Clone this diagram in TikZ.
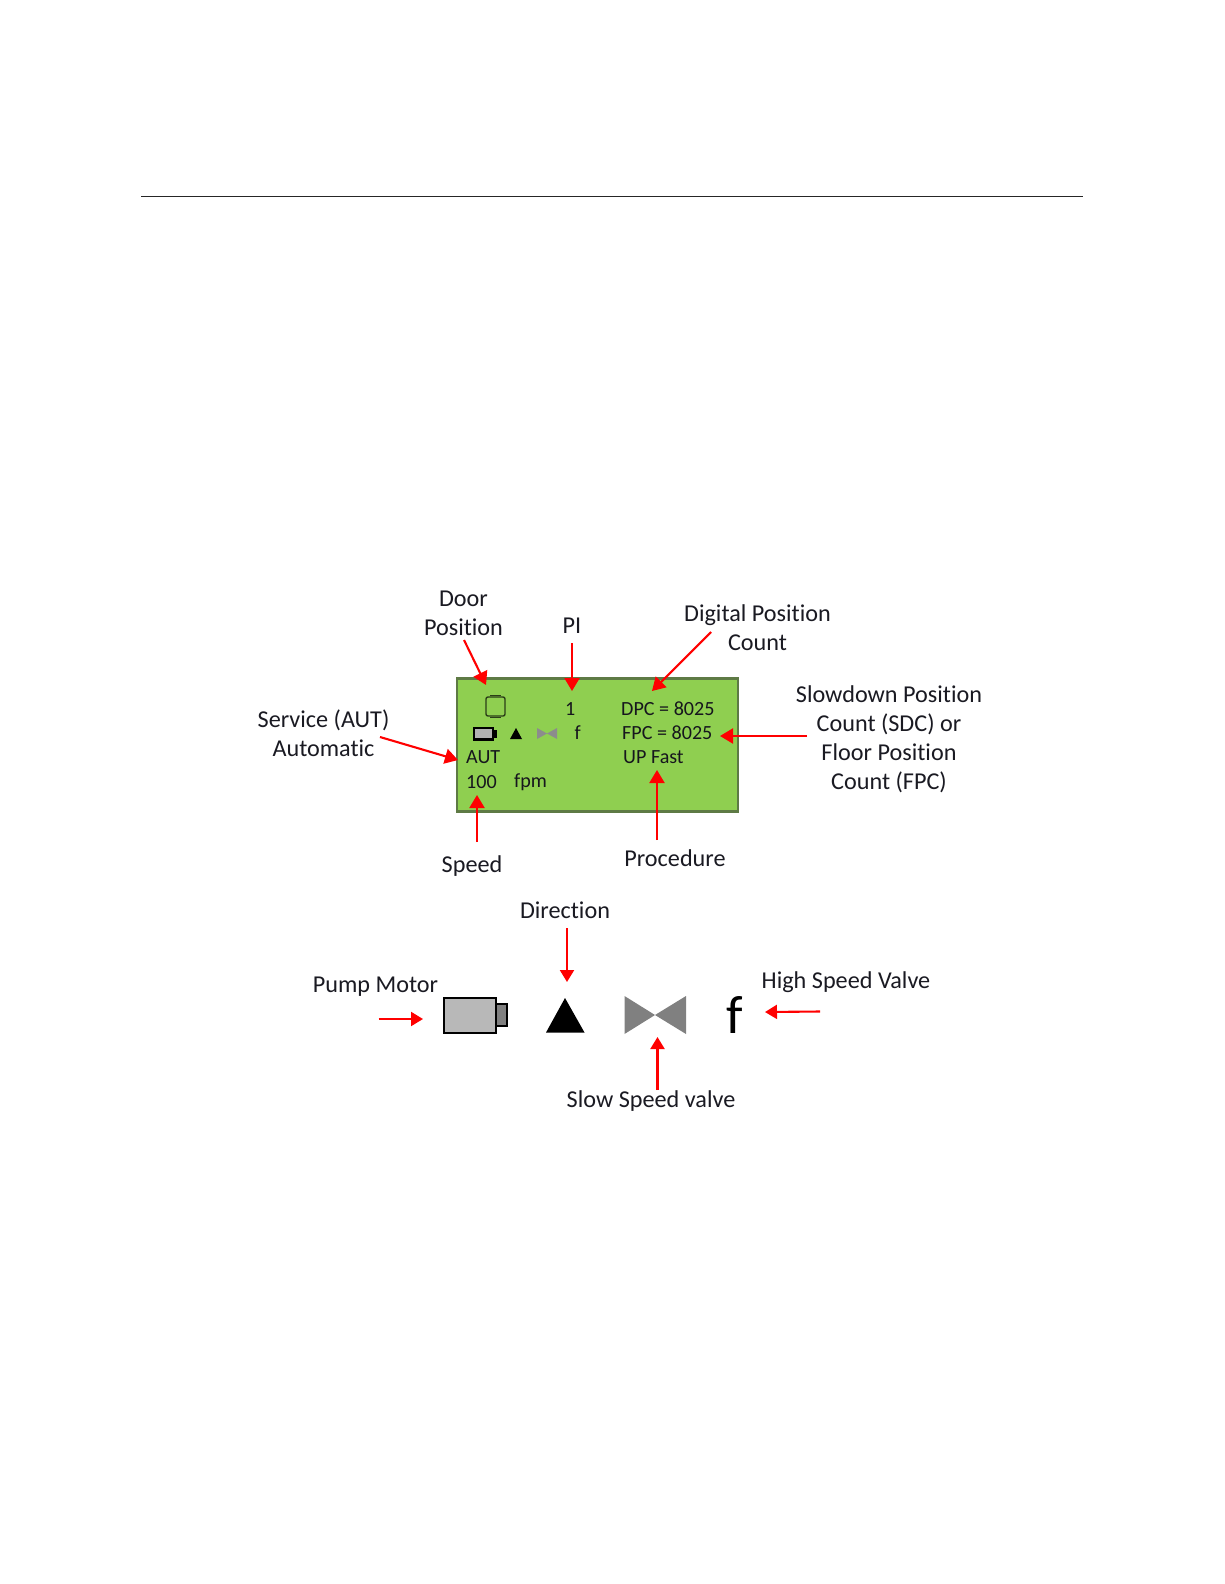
\documentclass[tikz,border=0pt]{standalone}
\usepackage{fontspec}
\setmainfont[Ligatures=NoCommon]{Carlito}
\usetikzlibrary{arrows.meta}
\definecolor{lcd}{HTML}{8FCF50}
\definecolor{lcdedge}{HTML}{5E7A45}
\definecolor{ink}{HTML}{1A1A22}
\tikzset{
  lab/.style={font=\fontsize{24.2}{29}\selectfont,text=ink,inner sep=0pt,align=center,anchor=center},
  disp/.style={font=\fontsize{20.1}{24}\selectfont,text=ink!85!black,inner sep=0pt,anchor=west},
  redarrow/.style={draw=red,line width=2.1pt,-{Triangle[length=13pt,width=15pt]},shorten >=0pt},
  redarrowsm/.style={draw=red,line width=2.1pt,-{Triangle[length=12pt,width=14pt]}},
}
\begin{document}
\begin{tikzpicture}[x=1pt,y=-1pt]
\useasboundingbox (0,0) rectangle (1224,1584);
\fill[white] (0,0) rectangle (1224,1584);
% header rule
\coordinate (ruleL) at (141,196);
\coordinate (ruleR) at (1083,196);
\draw[line width=0.9pt,black!85] (ruleL) -- (ruleR);

% LCD
\node[draw=lcdedge,fill=lcd,line width=2.2pt,minimum width=281pt,minimum height=133pt,inner sep=0pt,outer sep=0pt,anchor=north west] (lcd) at (457,678.5) {};

% labels
\node[lab] (door) at (463.5,613.5) {Door\\Position};
\node[lab] (pi) at (572,625.5) {PI};
\node[lab] (dpc) at (757.5,627.5) {Digital Position\\Count};
\node[lab] (sdc) at (889,739.5) {Slowdown Position\\Count (SDC) or\\Floor Position\\Count (FPC)};
\node[lab] (svc) at (323.5,733) {Service (AUT)\\Automatic};
\node[lab] (speed) at (472,866) {Speed};
\node[lab] (proc) at (675,858.5) {Procedure};
\node[lab] (dir) at (565,910) {Direction};
\node[lab] (pump) at (375.5,987) {Pump Motor};
\node[lab] (high) at (846,982) {High Speed Valve};
\node[lab] (slow) at (651,1101.5) {Slow Speed valve};

% LCD text
\node[disp] (t1) at (565,709) {1};
\node[disp] (tf) at (574.5,733) {f};
\node[disp] (taut) at (466,757) {AUT};
\node[disp] (t100) at (466,782) {100};
\node[disp] (tfpm) at (514,782) {fpm};
\node[disp] (tdpc) at (621,709) {DPC = 8025};
\node[disp] (tfpc) at (622,733) {FPC = 8025};
\node[disp] (tup) at (623,757) {UP Fast};

% LCD icons
\draw[draw=black!70!lcd,line width=1.4pt,rounded corners=2pt] (486,697) rectangle (505,716);
\draw[draw=black!70!lcd,line width=1.6pt] (490,695.5) -- (501,695.5) (490,717.5) -- (501,717.5);
\draw[fill=black!30,draw=black,line width=2.4pt] (474,728) rectangle (493,739.5);
\fill[black] (493,730) rectangle (497,738);
\fill[black] (510,739) -- (516,728) -- (522,739) -- cycle;
\fill[black!45] (537,728) -- (547,733.5) -- (557,728) -- (557,739) -- (547,733.5) -- (537,739) -- cycle;

% large icons
\draw[fill=black!28,draw=black,line width=2.2pt] (444,998) rectangle (496,1033);
\draw[fill=black!50,draw=black,line width=2.2pt] (496,1004) rectangle (507,1026);
\fill[black] (546,1032.5) -- (565,998) -- (584.5,1032.5) -- cycle;
\fill[black!50] (624.5,996) -- (655,1015) -- (686,996) -- (686,1034) -- (655,1015) -- (624.5,1034) -- cycle;
\node[font=\fontsize{54}{54}\selectfont,inner sep=0pt,anchor=base] (bigf) at (734.5,1033) {f};

% arrow free ends
\coordinate (aDoor) at (486,685);
\coordinate (aPI) at (572,691);
\coordinate (aDpc) at (652,691);
\coordinate (aSdc) at (720,736);
\coordinate (aSvc) at (458,760);
\coordinate (aSpeed) at (477,795);
\coordinate (aProc) at (657,770);
\coordinate (aDir) at (567,982);
\coordinate (aPump) at (423,1019);
\coordinate (aHigh) at (765,1012);
\coordinate (aSlow) at (657.5,1037);
\coordinate (sDoor) at (464,640);
\coordinate (sPI) at (572,643);
\coordinate (sDpc) at (711,632);
\coordinate (sSdc) at (807,736);
\coordinate (sSvc) at (380,737);
\coordinate (sSpeed) at (477,842);
\coordinate (sProc) at (657,840);
\coordinate (sDir) at (567,928);
\coordinate (sPump) at (378.7,1019);
\coordinate (sHigh) at (820,1011.5);
\coordinate (sSlow) at (657.5,1090);

\draw[redarrow] (sDoor) -- (aDoor);
\draw[redarrow] (sPI) -- (aPI);
\draw[redarrow] (sDpc) -- (aDpc);
\draw[redarrow] (sSdc) -- (aSdc);
\draw[redarrow] (sSvc) -- (aSvc);
\draw[redarrow] (sSpeed) -- (aSpeed);
\draw[redarrow] (sProc) -- (aProc);
\draw[redarrowsm] (sDir) -- (aDir);
\draw[redarrowsm] (sPump) -- (aPump);
\draw[redarrowsm] (sHigh) -- (aHigh);
\draw[redarrowsm] (sSlow) -- (aSlow);
\end{tikzpicture}
\end{document}
